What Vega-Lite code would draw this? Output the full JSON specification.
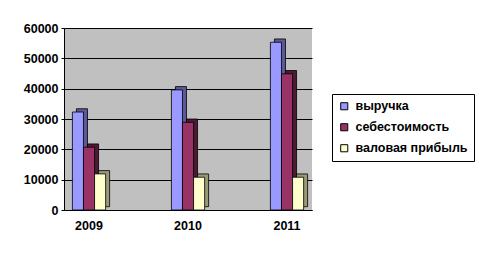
{
  "$schema": "https://vega.github.io/schema/vega-lite/v6.json",
  "autosize": "none",
  "width": 248,
  "height": 182,
  "padding": {"left": 64, "top": 28, "right": 177, "bottom": 44},
  "background": "white",
  "config": {
    "view": {"fill": "#C0C0C0", "stroke": null},
    "font": "Liberation Sans"
  },
  "data": {
    "values": [
      {"year": "2009", "series": "выручка", "value": 32300},
      {"year": "2009", "series": "себестоимость", "value": 20700},
      {"year": "2009", "series": "валовая прибыль", "value": 11900},
      {"year": "2010", "series": "выручка", "value": 39600},
      {"year": "2010", "series": "себестоимость", "value": 28900},
      {"year": "2010", "series": "валовая прибыль", "value": 10800},
      {"year": "2011", "series": "выручка", "value": 55300},
      {"year": "2011", "series": "себестоимость", "value": 44900},
      {"year": "2011", "series": "валовая прибыль", "value": 10800}
    ]
  },
  "encoding": {
    "x": {
      "field": "year", "type": "nominal",
      "scale": {"paddingInner": 0.665, "paddingOuter": 0.085},
      "axis": {
        "title": null, "labelAngle": 0, "labelFont": "Liberation Sans", "labelFontWeight": "bold",
        "labelFontSize": 12.5, "labelColor": "black", "labelPadding": 9,
        "domainColor": "black", "domainWidth": 1, "ticks": false, "grid": false
      }
    },
    "y": {
      "field": "value", "type": "quantitative",
      "scale": {"domain": [0, 60000], "nice": false},
      "axis": {
        "title": null, "values": [0, 10000, 20000, 30000, 40000, 50000, 60000], "format": "d",
        "labelFont": "Liberation Sans", "labelFontWeight": "bold", "labelFontSize": 12.5, "labelColor": "black",
        "labelPadding": 3, "tickSize": 3, "tickColor": "black", "domainColor": "black",
        "gridColor": "black", "gridWidth": 1, "gridOpacity": 1
      }
    }
  },
  "layer": [
    {
      "mark": {"type": "bar", "yOffset": -3.3, "stroke": "black", "strokeWidth": 0.8},
      "encoding": {
        "xOffset": {
          "field": "series", "type": "nominal",
          "sort": ["выручка", "себестоимость", "валовая прибыль"],
          "scale": {"paddingInner": 0, "paddingOuter": 0, "range": [4, 37.2]}
        },
        "color": {
          "field": "series", "type": "nominal",
          "scale": {"domain": ["выручка", "себестоимость", "валовая прибыль"], "range": ["#5A5A99", "#4D1933", "#999977"]},
          "legend": null
        }
      }
    },
    {
      "mark": {"type": "bar", "stroke": "black", "strokeWidth": 0.8},
      "encoding": {
        "xOffset": {
          "field": "series", "type": "nominal",
          "sort": ["выручка", "себестоимость", "валовая прибыль"],
          "scale": {"paddingInner": 0, "paddingOuter": 0, "range": [0, 33.2]}
        },
        "color": {
          "field": "series", "type": "nominal",
          "scale": {"domain": ["выручка", "себестоимость", "валовая прибыль"], "range": ["#9999FF", "#993366", "#FFFFCC"]},
          "legend": {
            "title": null, "orient": "none", "legendX": 268, "legendY": 66,
            "direction": "vertical",
            "strokeColor": "black", "fillColor": "white", "padding": 6,
            "symbolType": "square", "symbolSize": 50, "symbolStrokeColor": "black", "symbolStrokeWidth": 1,
            "symbolOpacity": 1,
            "labelFont": "Liberation Sans", "labelFontWeight": "bold", "labelFontSize": 12.5, "labelColor": "black",
            "labelOffset": 5, "rowPadding": 8, "labelLimit": 300
          }
        }
      }
    }
  ],
  "resolve": {"scale": {"color": "independent", "xOffset": "independent"}}
}
